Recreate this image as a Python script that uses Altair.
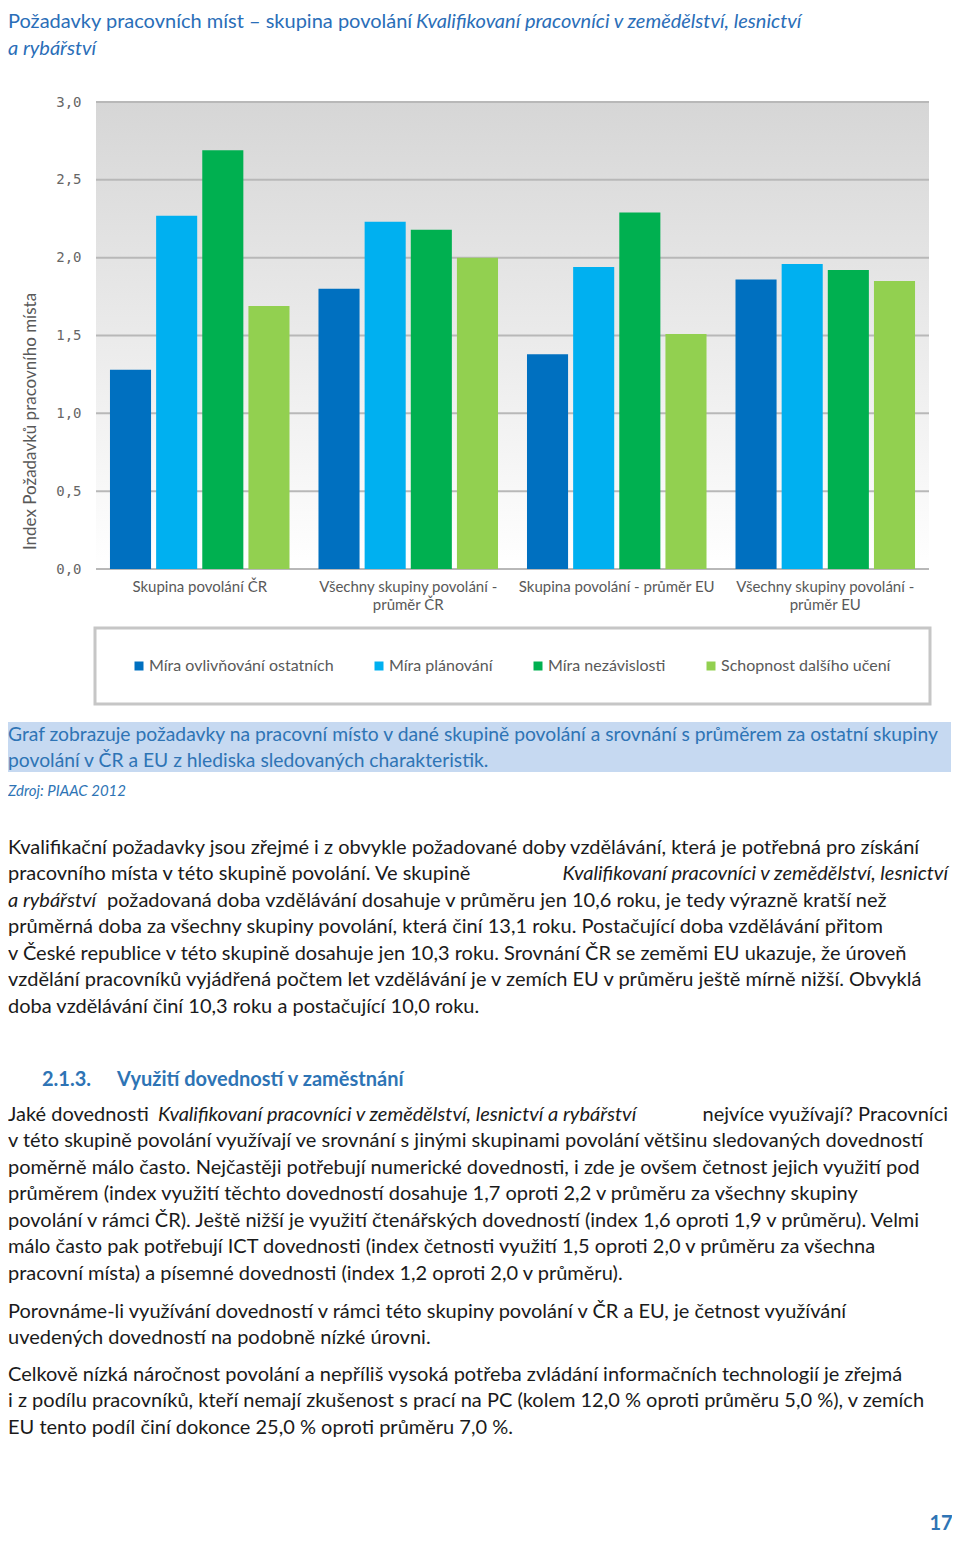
import altair as alt
import pandas as pd

# ---------------- data ----------------
groups = ["Skupina povolání ČR", "Všechny skupiny povolání -|průměr ČR",
          "Skupina povolání - průměr EU", "Všechny skupiny povolání -|průměr EU"]
series = ["Míra ovlivňování ostatních", "Míra plánování", "Míra nezávislosti", "Schopnost dalšího učení"]
colors = ["#0070C0", "#00B0F0", "#00B050", "#92D050"]
v_ovlivnovani = [1.28, 1.80, 1.38, 1.86]
v_planovani = [2.27, 2.23, 1.94, 1.96]
v_nezavislost = [2.69, 2.18, 2.29, 1.92]
v_uceni = [1.69, 2.00, 1.51, 1.85]
y_ticks = [0.0, 0.5, 1.0, 1.5, 2.0, 2.5, 3.0]

title_normal = "Požadavky pracovních míst – skupina povolání"
title_italic_1 = "Kvalifikovaní pracovníci v zemědělství, lesnictví"
title_italic_2 = "a rybářství"
y_title = "Index Požadavků pracovního místa"

caption_lines = [
    "Graf zobrazuje požadavky na pracovní místo v dané skupině povolání a srovnání s průměrem za ostatní skupiny",
    "povolání v ČR a EU z hlediska sledovaných charakteristik.",
]
source = "Zdroj: PIAAC 2012"

p1_l1 = "Kvalifikační požadavky jsou zřejmé i z obvykle požadované doby vzdělávání, která je potřebná pro získání"
p1_l2a = "pracovního místa v této skupině povolání. Ve skupině "
p1_l2b = "Kvalifikovaní pracovníci v zemědělství, lesnictví"
p1_l3a = "a rybářství"
p1_l3b = "požadovaná doba vzdělávání dosahuje v průměru jen 10,6 roku, je tedy výrazně kratší než"
p1_rest = [
    "průměrná doba za všechny skupiny povolání, která činí 13,1 roku. Postačující doba vzdělávání přitom",
    "v České republice v této skupině dosahuje jen 10,3 roku. Srovnání ČR se zeměmi EU ukazuje, že úroveň",
    "vzdělání pracovníků vyjádřená počtem let vzdělávání je v zemích EU v průměru ještě mírně nižší. Obvyklá",
    "doba vzdělávání činí 10,3 roku a postačující 10,0 roku.",
]
heading_num = "2.1.3."
heading_txt = "Využití dovedností v zaměstnání"
p2_l1a = "Jaké dovednosti "
p2_l1b = "Kvalifikovaní pracovníci v zemědělství, lesnictví a rybářství"
p2_l1c = "nejvíce využívají? Pracovníci"
p2_rest = [
    "v této skupině povolání využívají ve srovnání s jinými skupinami povolání většinu sledovaných dovedností",
    "poměrně málo často. Nejčastěji potřebují numerické dovednosti, i zde je ovšem četnost jejich využití pod",
    "průměrem (index využití těchto dovedností dosahuje 1,7 oproti 2,2 v průměru za všechny skupiny",
    "povolání v rámci ČR). Ještě nižší je využití čtenářských dovedností (index 1,6 oproti 1,9 v průměru). Velmi",
    "málo často pak potřebují ICT dovednosti (index četnosti využití 1,5 oproti 2,0 v průměru za všechna",
    "pracovní místa) a písemné dovednosti (index 1,2 oproti 2,0 v průměru).",
]
p3 = [
    "Porovnáme-li využívání dovedností v rámci této skupiny povolání v ČR a EU, je četnost využívání",
    "uvedených dovedností na podobně nízké úrovni.",
]
p4 = [
    "Celkově nízká náročnost povolání a nepříliš vysoká potřeba zvládání informačních technologií je zřejmá",
    "i z podílu pracovníků, kteří nemají zkušenost s prací na PC (kolem 12,0 % oproti průměru 5,0 %), v zemích",
    "EU tento podíl činí dokonce 25,0 % oproti průměru 7,0 %.",
]
page_no = "17"

# ---------------- tables ----------------
rows = []
for s, vals in zip(series, [v_ovlivnovani, v_planovani, v_nezavislost, v_uceni]):
    for g, v in zip(groups, vals):
        rows.append({"group": g, "series": s, "value": v})
df = pd.DataFrame(rows)
ticks_df = pd.DataFrame({"t": y_ticks})
one = pd.DataFrame({"k": [0]})

# ---------------- layout ----------------
W, H = 833, 467
X0, Y0 = 96, 102          # page position of the plot area


def px(x):
    return x - X0


def py(y):
    return y - Y0


FONT = "Lato"
AXFONT = "Lato"
BLUE = "#2E74B5"
TITLE_BLUE = "#2A6EB8"
BODY = "#1a1a1a"
GREY = "#595959"
BS = 20     # body font size
LH = 26.6   # body line height


def txt(s, x, y, size=BS, color=BODY, weight="normal", style="normal", align="left", lh=None):
    props = dict(align=align, baseline="alphabetic", font=FONT, fontSize=size, color=color,
                 fontWeight=weight, fontStyle=style)
    if lh is not None:
        props.update(lineBreak="\n", lineHeight=lh)
    return alt.Chart(pd.DataFrame({"t": [s]})).mark_text(**props).encode(
        x=alt.value(x), y=alt.value(y), text="t:N")


y_axis = alt.Axis(values=y_ticks, labelExpr="replace(format(datum.value, '.1f'), '.', ',')",
                  grid=False, domain=False, ticks=False, labelFont="DejaVu Sans Mono",
                  labelFontSize=14, labelColor="#666666", labelPadding=15,
                  title=y_title, titleFont=FONT, titleFontSize=17, titleFontWeight="normal",
                  titleColor=GREY, titleX=-66, titleY=319, titleAngle=270,
                  titleAlign="center", titleBaseline="middle")
y_scale = alt.Scale(domain=[0, 3])

bg = alt.Chart(one).mark_rect(
    fill=alt.LinearGradient(gradient="linear",
                            stops=[alt.GradientStop(color="#d6d6d6", offset=0),
                                   alt.GradientStop(color="#ffffff", offset=1)],
                            x1=0, x2=0, y1=0, y2=1)
).encode(x=alt.value(0), x2=alt.value(W), y=alt.value(0), y2=alt.value(H))

grid = alt.Chart(ticks_df).mark_rule(color="#b8b8b8", strokeWidth=2).encode(
    y=alt.Y("t:Q", axis=y_axis, scale=y_scale))

bars = alt.Chart(df).mark_bar().encode(
    x=alt.X("group:N", sort=groups,
            scale=alt.Scale(paddingInner=0.139, paddingOuter=0.067),
            axis=alt.Axis(title=None, labelExpr="split(datum.label, '|')", labelAngle=0,
                          domain=False, ticks=False, labelPadding=10, labelFont=AXFONT,
                          labelFontSize=15, labelColor=GREY, labelLineHeight=18, labelLimit=400)),
    xOffset=alt.XOffset("series:N", sort=series, scale=alt.Scale(paddingInner=0.11)),
    y=alt.Y("value:Q", scale=y_scale, axis=y_axis),
    color=alt.Color("series:N", sort=series, scale=alt.Scale(domain=series, range=colors),
                    legend=alt.Legend(orient="none", legendX=35, legendY=556, direction="horizontal",
                                      title=None, symbolType="square", symbolSize=81,
                                      symbolStrokeWidth=0, labelFont=AXFONT, labelFontSize=16,
                                      labelColor=GREY, columnPadding=37, labelOffset=2,
                                      labelLimit=0)),
)

legend_box = alt.Chart(one).mark_rect(fill="white", stroke="#c6c6c6", strokeWidth=3).encode(
    x=alt.value(px(95)), x2=alt.value(px(930)), y=alt.value(py(628)), y2=alt.value(py(704)))

caption_box = alt.Chart(one).mark_rect(fill="#C6D9F1").encode(
    x=alt.value(px(8)), x2=alt.value(px(951)), y=alt.value(py(722)), y2=alt.value(py(772)))

LX = px(8)
RX = px(948)
layers = [
    bg, grid, bars, legend_box, caption_box,
    txt(title_normal, LX, py(28), size=20, color=TITLE_BLUE),
    txt(title_italic_1, px(416), py(28), size=20, color=TITLE_BLUE, style="italic"),
    txt(title_italic_2, LX, py(55), size=20, color=TITLE_BLUE, style="italic"),
    txt("\n".join(caption_lines), px(8), py(741), size=19.3, color=BLUE, lh=25.5),
    txt(source, LX, py(796), size=15, color=BLUE, style="italic"),
    txt(p1_l1, LX, py(853.5)),
    txt(p1_l2a, LX, py(880)),
    txt(p1_l2b, RX, py(880), style="italic", align="right"),
    txt(p1_l3a, LX, py(906.5), style="italic"),
    txt(p1_l3b, px(107), py(906.5)),
    txt("\n".join(p1_rest), LX, py(933), lh=LH),
    txt(heading_num, px(42), py(1086), weight="bold", color=BLUE),
    txt(heading_txt, px(117), py(1086), weight="bold", color=BLUE),
    txt(p2_l1a, LX, py(1120.5)),
    txt(p2_l1b, px(158), py(1120.5), style="italic"),
    txt(p2_l1c, RX, py(1120.5), align="right"),
    txt("\n".join(p2_rest), LX, py(1147), lh=LH),
    txt("\n".join(p3), LX, py(1317.5), lh=LH),
    txt("\n".join(p4), LX, py(1380.5), lh=LH),
    txt(page_no, px(941), py(1530), size=20, weight="bold", color=BLUE, align="center"),
]

chart = alt.layer(*layers).properties(
    width=W, height=H,
    autosize=alt.AutoSizeParams(type="none"),
    padding={"left": 88, "top": 94, "right": 23, "bottom": 965},
).configure_view(stroke=None)

chart.save("out.html", embed_options={"renderer": "svg", "actions": False})
